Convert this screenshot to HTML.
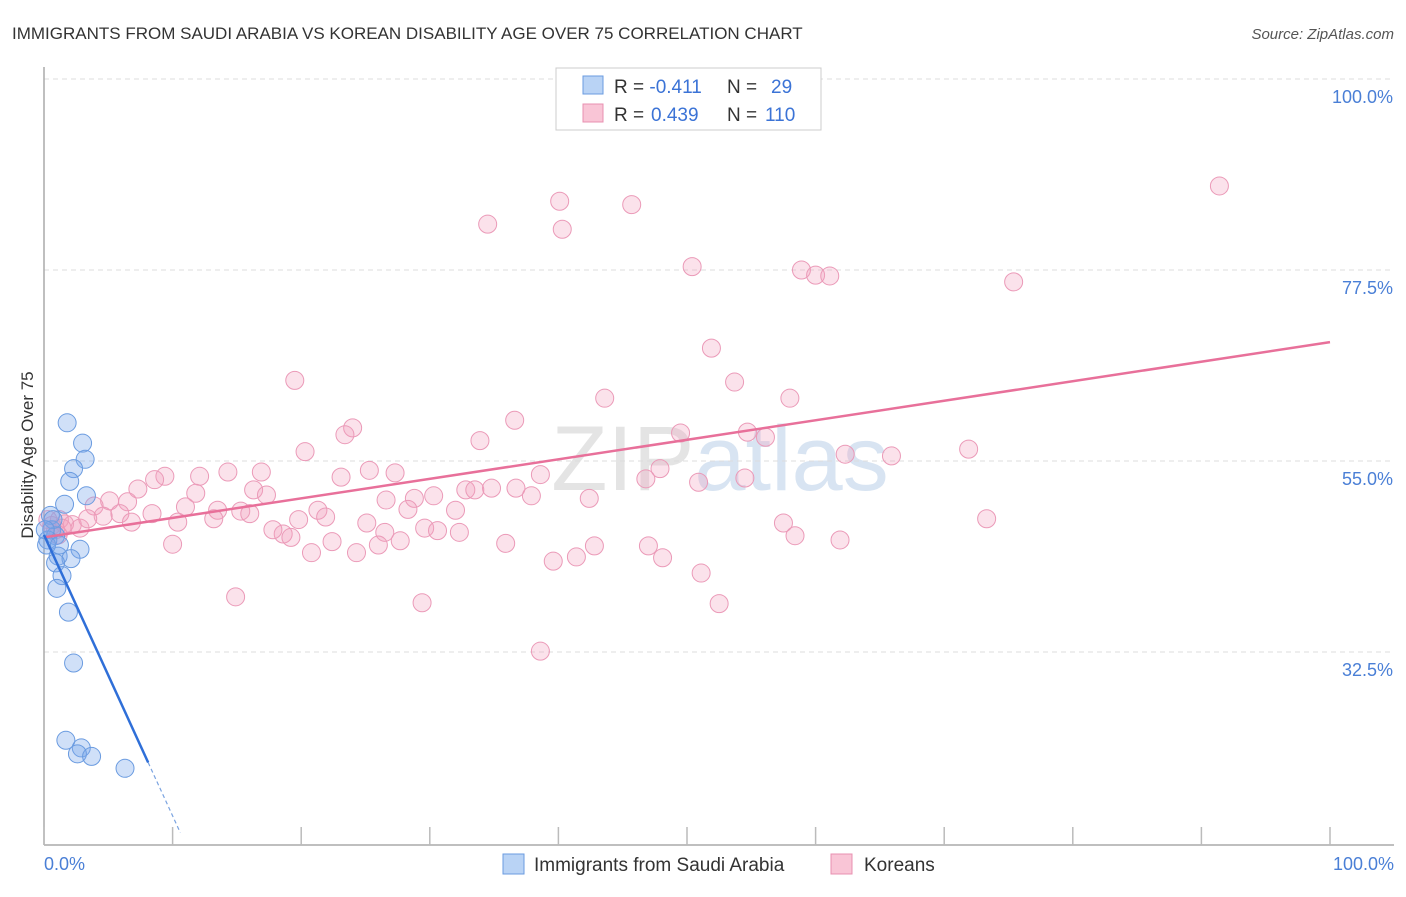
<!DOCTYPE html>
<html><head><meta charset="utf-8"><style>
body{margin:0;background:#fff;font-family:"Liberation Sans",sans-serif}
svg text{font-family:"Liberation Sans",sans-serif}
</style></head><body>
<svg width="1406" height="892" xmlns="http://www.w3.org/2000/svg">
<text x="12" y="39" font-size="17" fill="#333">IMMIGRANTS FROM SAUDI ARABIA VS KOREAN DISABILITY AGE OVER 75 CORRELATION CHART</text>
<text x="1394" y="39" font-size="15" fill="#555" font-style="italic" text-anchor="end">Source: ZipAtlas.com</text>
<text x="720" y="490" font-size="92" fill="#e4e4e4" text-anchor="middle" font-family="Liberation Serif">ZIP<tspan fill="#d8e4f2" font-family="Liberation Sans">atlas</tspan></text>
<g id="grid"></g>
<line x1="44" y1="67" x2="44" y2="845" stroke="#aaa" stroke-width="1.5"/>
<line x1="44" y1="845" x2="1394" y2="845" stroke="#aaa" stroke-width="1.5"/>
<g id="xticks"></g>
<g id="ylabels"></g>
<text x="44" y="870" font-size="18" fill="#4a7fd6">0.0%</text>
<text x="1394" y="870" font-size="18" fill="#4a7fd6" text-anchor="end">100.0%</text>
<text transform="translate(33,455) rotate(-90)" font-size="17" fill="#333" text-anchor="middle">Disability Age Over 75</text>
<g id="pink"></g>
<g id="blue"></g>
<g id="trends"></g>
<g>
<rect x="556" y="68" width="265" height="62" fill="#fff" stroke="#ccc"/>
<rect x="583" y="76" width="20" height="18" fill="#b9d3f5" stroke="#6a9be0"/>
<rect x="583" y="104" width="20" height="18" fill="#f9c5d6" stroke="#e890b0"/>
<text x="614" y="93" font-size="19" fill="#333">R = <tspan fill="#3b73d6">-0.411</tspan><tspan x="727">N = </tspan><tspan fill="#3b73d6" x="771">29</tspan></text>
<text x="614" y="121" font-size="19" fill="#333">R = <tspan fill="#3b73d6" x="651">0.439</tspan><tspan x="727">N = </tspan><tspan fill="#3b73d6" x="765">110</tspan></text>
</g>
<g>
<rect x="503" y="854" width="21" height="20" fill="#b9d3f5" stroke="#6a9be0"/>
<text x="534" y="871" font-size="19" fill="#333">Immigrants from Saudi Arabia</text>
<rect x="831" y="854" width="21" height="20" fill="#f9c5d6" stroke="#e890b0"/>
<text x="864" y="871" font-size="19" fill="#333">Koreans</text>
</g>
</svg>
<script>
const yTicks=[100,77.5,55,32.5];
const yTickLabels=["100.0%","77.5%","55.0%","32.5%"];
const xTicks=[0,10,20,30,40,50,60,70,80,90,100];
const blueX=[1.8,3.0,3.2,2.3,2.0,3.3,1.6,0.5,0.6,0.9,0.3,2.8,1.1,2.1,0.9,1.4,1.0,1.9,2.3,1.7,2.9,2.6,3.7,6.3,0.2,0.7,1.2,0.1];
const blueY=[59.5,57.1,55.2,54.1,52.6,50.9,49.9,48.6,46.9,46.2,45.7,44.6,43.8,43.5,43.0,41.5,40.0,37.2,31.2,22.1,21.2,20.5,20.2,18.8,45.1,48.1,45.1,46.9];
const pinkX=[40.1,45.7,91.4,34.5,40.3,50.4,58.9,60.0,61.1,75.4,51.9,19.5,53.7,43.6,58.0,36.6,24.0,23.4,33.9,49.5,54.7,56.1,20.3,62.3,65.9,71.9,47.9,54.5,46.8,50.9,38.6,23.1,25.3,27.3,16.9,14.3,12.1,9.4,8.6,7.3,16.3,11.8,17.3,26.6,28.8,30.3,32.8,33.5,34.8,36.7,37.9,42.4,5.1,6.5,3.9,11.0,13.5,15.3,8.4,5.9,4.6,6.8,10.4,13.2,16.0,21.3,21.9,19.8,25.1,28.3,32.0,18.6,19.2,17.8,26.5,27.7,29.6,30.6,32.3,57.5,58.4,73.3,61.9,22.4,20.8,24.3,26.0,35.9,42.8,47.0,10.0,39.6,41.4,48.1,51.1,14.9,29.4,52.5,38.6,1.2,1.6,2.2,2.8,0.9,1.4,0.3,0.6,3.4,1.1];
const pinkY=[85.6,85.2,87.4,82.9,82.3,77.9,77.5,76.9,76.8,76.1,68.3,64.5,64.3,62.4,62.4,59.8,58.9,58.1,57.4,58.3,58.4,57.8,56.1,55.8,55.6,56.4,54.1,53.0,52.9,52.5,53.4,53.1,53.9,53.6,53.7,53.7,53.2,53.2,52.8,51.7,51.6,51.2,51.0,50.4,50.6,50.9,51.6,51.6,51.8,51.8,50.9,50.6,50.3,50.2,49.7,49.6,49.2,49.1,48.8,48.8,48.5,47.8,47.8,48.2,48.8,49.2,48.4,48.1,47.7,49.3,49.2,46.4,46.0,46.9,46.6,45.6,47.1,46.8,46.6,47.7,46.2,48.2,45.7,45.5,44.2,44.2,45.1,45.3,45.0,45.0,45.2,43.2,43.7,43.6,41.8,39.0,38.3,38.2,32.6,48.1,47.6,47.5,47.1,46.9,47.1,48.1,47.4,48.2,46.3];
const blueTrend=[46.3,-3.31];
const pinkTrend=[46.0,69.0];
const X=v=>44+v*12.86, Y=v=>79+(100-v)*8.489;
const NS="http://www.w3.org/2000/svg";
function mk(t,p,a){const e=document.createElementNS(NS,t);for(const k in a)e.setAttribute(k,a[k]);p.appendChild(e);return e;}
const grid=document.getElementById('grid'),yl=document.getElementById('ylabels'),xt=document.getElementById('xticks');
yTicks.forEach((v,i)=>{
 const l=mk('line',grid,{x1:44,x2:1394,y1:Y(v),y2:Y(v),stroke:'#ddd','stroke-dasharray':'5,4'});
 
 
 const t=mk('text',yl,{x:1393,y:Y(v)+24,'font-size':18,fill:'#4a7fd6','text-anchor':'end'});
 t.textContent=yTickLabels[i];
 
 
});
xTicks.forEach(v=>{
 const l=mk('line',xt,{x1:X(v),x2:X(v),y1:845,y2:827,stroke:'#bbb','stroke-width':1.5});
 
 
});
const pg=document.getElementById('pink');
pinkX.forEach((x,i)=>{
 const c=mk('circle',pg,{cx:X(x),cy:Y(pinkY[i]),r:9,fill:'rgba(243,160,190,0.3)',stroke:'#eb9ab8','stroke-width':1});
 
 
});
const bg=document.getElementById('blue');
blueX.forEach((x,i)=>{
 const c=mk('circle',bg,{cx:X(x),cy:Y(blueY[i]),r:9,fill:'rgba(120,165,235,0.35)',stroke:'#6a9be0','stroke-width':1});
 
 
});
const tg=document.getElementById('trends');
const pl=mk('line',tg,{x1:X(0),y1:Y(pinkTrend[0]),x2:X(100),y2:Y(pinkTrend[1]),stroke:'#e8709a','stroke-width':2.5});


const bf=x=>blueTrend[0]+blueTrend[1]*x;
const bl=mk('line',tg,{x1:X(0),y1:Y(bf(0)),x2:X(8.1),y2:Y(bf(8.1)),stroke:'#2f6fd8','stroke-width':2.5});


const bd=mk('line',tg,{x1:X(8.1),y1:Y(bf(8.1)),x2:X(10.6),y2:Y(bf(10.6)),stroke:'#7aa3e0','stroke-width':1.2,'stroke-dasharray':'4,3'});


</script>
</body></html>
